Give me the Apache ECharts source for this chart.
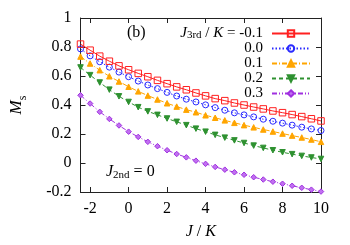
<!DOCTYPE html>
<html><head><meta charset="utf-8">
<script src="https://cdn.jsdelivr.net/npm/echarts@6/dist/echarts.min.js"></script>
<style>html,body{margin:0;padding:0;background:#fff}#c{width:350px;height:245px}</style>
</head><body><div id="c"></div>
<script>
const xValues = [-2.5,-2,-1.5,-1,-0.5,0,0.5,1,1.5,2,2.5,3,3.5,4,4.5,5,5.5,6,6.5,7,7.5,8,8.5,9,9.5,10];
const seriesNames = ['-0.1','0.0','0.1','0.2','0.3'];
const msM01 = [0.820,0.778,0.737,0.702,0.670,0.643,0.618,0.595,0.570,0.547,0.525,0.505,0.483,0.463,0.444,0.430,0.414,0.400,0.386,0.373,0.359,0.347,0.334,0.320,0.305,0.290];
const ms00 = [0.787,0.739,0.698,0.661,0.627,0.595,0.565,0.538,0.513,0.487,0.462,0.440,0.421,0.401,0.382,0.364,0.346,0.332,0.318,0.302,0.288,0.275,0.261,0.247,0.235,0.224];
const ms01 = [0.734,0.686,0.640,0.598,0.562,0.526,0.494,0.465,0.438,0.412,0.389,0.368,0.350,0.329,0.312,0.294,0.277,0.261,0.246,0.231,0.217,0.203,0.189,0.176,0.162,0.146];
const ms02 = [0.659,0.606,0.555,0.506,0.460,0.421,0.385,0.356,0.332,0.307,0.284,0.261,0.237,0.216,0.194,0.175,0.156,0.138,0.120,0.104,0.088,0.074,0.061,0.049,0.038,0.028];
const ms03 = [0.467,0.410,0.353,0.304,0.259,0.216,0.180,0.146,0.116,0.088,0.062,0.039,0.016,-0.006,-0.027,-0.046,-0.064,-0.081,-0.098,-0.114,-0.129,-0.143,-0.157,-0.171,-0.184,-0.197];
const yTicks = [-0.2,0,0.2,0.4,0.6,0.8,1];
const xTickLabels = [-2,0,2,4,6,8,10];

const FONT = 'Liberation Serif';
const allData = [msM01, ms00, ms01, ms02, ms03];
const styles = [
  {color:'#ff2020', symbol:'rect', size:6.5, fill:'rgba(255,255,255,0)', dash:'solid', rot:0},
  {color:'#2a2aff', symbol:'circle', size:6, fill:'rgba(255,255,255,0)', dash:[1.5,2], rot:0},
  {color:'#ffa500', symbol:'triangle', size:5.5, fill:null, dash:[5,2,1,2], rot:0},
  {color:'#2e9130', symbol:'triangle', size:5.5, fill:null, dash:[4,3], rot:180},
  {color:'#a030e0', symbol:'diamond', size:5.5, fill:'#c070f0', dash:[5,2,1,2,1,2], rot:0}
];
const series = seriesNames.map((n, i) => ({
  name: n, type: 'line', xAxisIndex: 0, yAxisIndex: 0,
  data: xValues.map((x, k) => [x, allData[i][k]]),
  symbol: styles[i].symbol, symbolSize: styles[i].size, symbolRotate: styles[i].rot,
  showAllSymbol: true,
  lineStyle: {color: styles[i].color, width: 1, type: styles[i].dash},
  itemStyle: {color: styles[i].fill || styles[i].color, borderColor: styles[i].color, borderWidth: 1},
  emphasis: {disabled: true}, z: 10 - i
}));

const axisCommon = {
  axisLine: {show: true, onZero: false, lineStyle: {color: '#222', width: 1}},
  axisTick: {show: true, inside: true, length: 5, lineStyle: {color: '#222'}},
  splitLine: {show: false}
};
const chart = echarts.init(document.getElementById('c'), null, {renderer: 'canvas'});
chart.setOption({
  animation: false,
  backgroundColor: '#fff',
  grid: {left: 78, right: 29, top: 18, bottom: 52, containLabel: false},
  xAxis: [
    Object.assign({type: 'value', position: 'bottom', min: -2.5, max: 10, splitNumber: 6, minInterval: 2, maxInterval: 2,
      name: '{i|J} / {i|K}', nameLocation: 'middle', nameGap: 32,
      nameTextStyle: {fontFamily: FONT, fontSize: 16, color: '#000', rich: {i: {fontStyle: 'italic', fontFamily: FONT, fontSize: 16}}},
      axisLabel: {fontFamily: FONT, fontSize: 16, color: '#000', margin: 9,
        formatter: v => xTickLabels.indexOf(v) >= 0 ? String(v) : ''}}, axisCommon),
    Object.assign({type: 'value', position: 'top', min: -2.5, max: 10, splitNumber: 6, minInterval: 2, maxInterval: 2,
      axisLabel: {show: false}}, axisCommon)
  ],
  yAxis: [
    Object.assign({type: 'value', position: 'left', min: -0.2, max: 1, interval: 0.2,
      name: '{m|M}{s|s}', nameLocation: 'middle', nameRotate: 90, nameGap: 52,
      nameTextStyle: {rich: {m: {fontStyle: 'italic', fontFamily: FONT, fontSize: 17, lineHeight: 24, color: '#000'},
                             s: {fontFamily: FONT, fontSize: 12, lineHeight: 10, verticalAlign: 'bottom', color: '#000'}}},
      axisLabel: {fontFamily: FONT, fontSize: 16, color: '#000', margin: 9,
        formatter: v => { const t = yTicks.find(y => Math.abs(y - v) < 1e-9); return t === undefined ? '' : String(t); }}}, axisCommon),
    Object.assign({type: 'value', position: 'right', min: -0.2, max: 1, interval: 0.2, axisLabel: {show: false}}, axisCommon)
  ],
  legend: {
    orient: 'vertical', align: 'right', right: 39, top: 26, padding: 0, itemGap: 0,
    itemWidth: 38, itemHeight: 8, selectedMode: false,
    data: seriesNames,
    textStyle: {fontFamily: FONT, fontSize: 15, lineHeight: 14, color: '#000', padding: [0, 4, 0, 0],
      rich: {j: {fontStyle: 'italic', fontFamily: FONT, fontSize: 15, lineHeight: 14},
             s: {fontFamily: FONT, fontSize: 11, lineHeight: 10, verticalAlign: 'bottom'},
             t: {fontFamily: FONT, fontSize: 15, lineHeight: 14}}},
    formatter: n => n === '-0.1' ? '{j|J}{s|3rd}{t| / }{j|K}{t| = -0.1}' : n
  },
  graphic: [
    {type: 'text', left: 127, top: 25, style: {text: '(b)', font: '16px "Liberation Serif"', fill: '#000'}},
    {type: 'text', left: 106, top: 164, style: {
      text: '{j|J}{s|2nd}{t| = 0}', fill: '#000',
      rich: {j: {fontStyle: 'italic', fontFamily: FONT, fontSize: 16, lineHeight: 18},
             s: {fontFamily: FONT, fontSize: 11, lineHeight: 10, verticalAlign: 'bottom'},
             t: {fontFamily: FONT, fontSize: 16, lineHeight: 18}}}}
  ],
  series: series
});
</script></body></html>
